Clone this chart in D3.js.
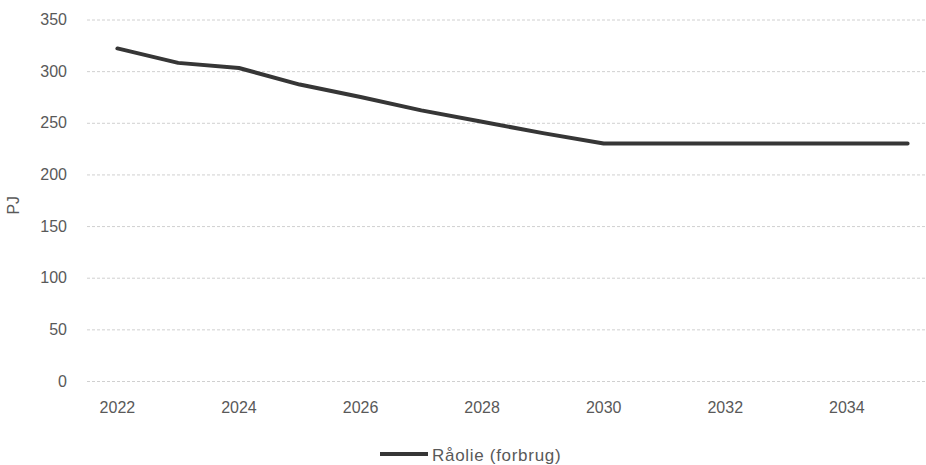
<!DOCTYPE html>
<html>
<head>
<meta charset="utf-8">
<script src="https://cdn.jsdelivr.net/npm/d3@7"></script>
<style>
  html, body { margin: 0; padding: 0; background: #fff; }
  svg { display: block; }
  text { font-family: "Liberation Sans", Arial, sans-serif; fill: #595959; }
</style>
</head>
<body>
<div id="chart"></div>
<script>
// Crude oil consumption projection, PJ per year
const years = [2022, 2023, 2024, 2025, 2026, 2027, 2028, 2029, 2030, 2031, 2032, 2033, 2034, 2035];
const consumption = [322, 308, 303, 287, 275, 262, 251, 240, 230, 230, 230, 230, 230, 230];
const yTicks = [0, 50, 100, 150, 200, 250, 300, 350];
const xTickYears = [2022, 2024, 2026, 2028, 2030, 2032, 2034];
const seriesName = "Råolie (forbrug)";
const yAxisTitle = "PJ";

const width = 926, height = 465;
const plot = { left: 87, right: 938, top: 19.5, bottom: 381 };

const svg = d3.select("#chart").append("svg")
  .attr("width", width)
  .attr("height", height);

// Category axis: each year occupies one band, point at band centre
const x = d3.scaleBand()
  .domain(years)
  .range([plot.left, plot.right]);
const xc = d => x(d) + x.bandwidth() / 2;

const y = d3.scaleLinear()
  .domain([0, 350])
  .range([plot.bottom, plot.top]);

// Dashed horizontal gridlines with value labels
const yAxis = d3.axisLeft(y)
  .tickValues(yTicks)
  .tickSize(-(plot.right - plot.left))
  .tickPadding(20);

const gy = svg.append("g")
  .attr("transform", `translate(${plot.left},0)`)
  .call(yAxis);
gy.select(".domain").remove();
gy.selectAll(".tick line")
  .attr("stroke", "#d0d0d0")
  .attr("stroke-width", 1)
  .attr("stroke-dasharray", "3,2");
gy.selectAll(".tick text")
  .attr("font-size", 16)
  .attr("fill", "#595959");

// Year labels below the plot
const xAxis = d3.axisBottom(x)
  .tickValues(xTickYears)
  .tickSize(0)
  .tickPadding(21);
const gx = svg.append("g")
  .attr("transform", `translate(0,${plot.bottom})`)
  .call(xAxis);
gx.select(".domain").remove();
gx.selectAll(".tick text")
  .attr("font-size", 16)
  .attr("fill", "#595959");

// Y axis title
svg.append("text")
  .attr("transform", `translate(19,${(plot.top + plot.bottom) / 2 + 5}) rotate(-90)`)
  .attr("text-anchor", "middle")
  .attr("font-size", 16)
  .text(yAxisTitle);

// Consumption line
const line = d3.line()
  .x((d, i) => xc(years[i]))
  .y(d => y(d));

svg.append("path")
  .datum(consumption)
  .attr("fill", "none")
  .attr("stroke", "#363636")
  .attr("stroke-width", 4)
  .attr("stroke-linejoin", "round")
  .attr("stroke-linecap", "round")
  .attr("d", line);

// Legend
const legend = svg.append("g").attr("transform", "translate(380,454)");
legend.append("line")
  .attr("x1", 0).attr("x2", 48)
  .attr("y1", 0).attr("y2", 0)
  .attr("stroke", "#363636")
  .attr("stroke-width", 4);
legend.append("text")
  .attr("x", 52)
  .attr("y", 7)
  .attr("font-size", 17)
  .attr("letter-spacing", 0.7)
  .text(seriesName);
</script>
</body>
</html>
